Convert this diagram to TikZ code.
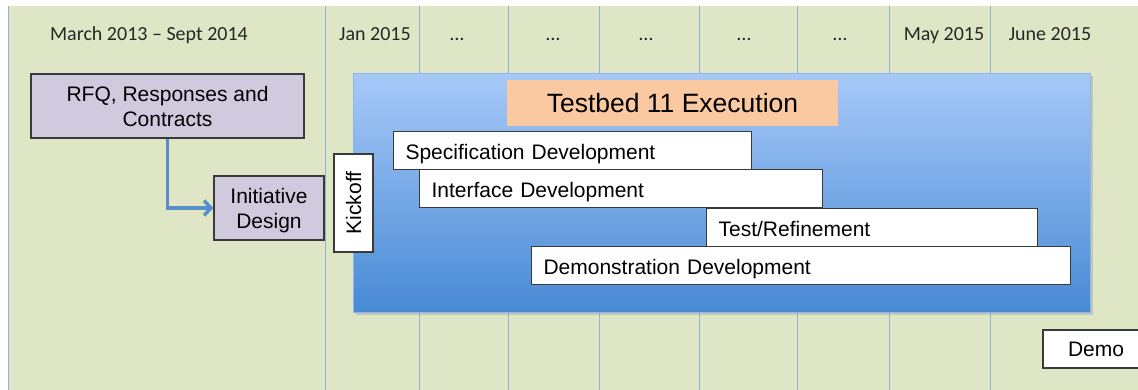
\documentclass[tikz,border=0pt]{standalone}
\usepackage{fontspec}
\setmainfont{Liberation Sans}
\newfontfamily\headfont[Ligatures=TeX]{Carlito}
\usetikzlibrary{positioning,arrows.meta,shadows}
\definecolor{bggreen}{HTML}{DEE6C5}
\definecolor{gridblue}{HTML}{93B3D6}
\definecolor{prepviolet}{HTML}{D1CADF}
\definecolor{titleorange}{HTML}{FBC9A1}
\definecolor{exectop}{HTML}{A7C9F8}
\definecolor{execbot}{HTML}{488AD5}
\definecolor{flowblue}{HTML}{5A8ECB}
\definecolor{boxline}{HTML}{3A3A3A}
\newcommand*{\boxfont}{\fontsize{21}{25}\selectfont}
\tikzset{
  month/.style = {font=\headfont\fontsize{20}{24}\selectfont, text=black!85,
                  anchor=base},
  prep/.style  = {draw=boxline, line width=1.1pt, fill=prepviolet,
                  align=center, inner sep=0pt, text depth=0pt, font=\boxfont},
  task/.style  = {draw=boxline, line width=1.1pt, fill=white, align=left,
                  text width=#1, inner xsep=12pt, inner ysep=0pt,
                  text height=20pt, text depth=2pt,
                  minimum height=38pt, anchor=north west, font=\boxfont},
  flow/.style  = {draw=flowblue, line width=3.5pt,
                  -{Straight Barb[length=7pt,width=15pt]}},
}

\begin{document}
\begin{tikzpicture}[x=1pt, y=-1pt]
  \useasboundingbox (0,0) rectangle (1138,390);
  \clip (0,0) rectangle (1138,390);

  % timeline background and month columns
  \fill[bggreen] (8,6) rectangle (1138,390);
  \draw[gridblue, line width=1pt] (8,6) -- (8,390);
  \foreach \gx in {325,419,508,599,699,797,889,990}
    \draw[gridblue, line width=0.8pt] (\gx,6) -- (\gx,390);

  \node[month] (m0) at (149,41) {March 2013 – Sept 2014};
  \node[month] (m1) at (375,41) {Jan 2015};
  \node[month] (m2) at (457,41) {…};
  \node[month] (m3) at (553,41) {…};
  \node[month] (m4) at (646,41) {…};
  \node[month] (m5) at (744,41) {…};
  \node[month] (m6) at (840,41) {…};
  \node[month] (m7) at (944,41) {May 2015};
  \node[month] (m8) at (1050,41) {June 2015};

  % preparation
  \node[prep, minimum width=273pt, minimum height=64pt] (rfq) at (167.5,106)
    {RFQ, Responses and\\Contracts};
  \node[prep, minimum width=110pt, minimum height=64pt] (init) at (269,208)
    {Initiative\\Design};
  \draw[flow] (rfq.south) |- (init.west);

  % execution
  \node[anchor=north west, minimum width=737pt, minimum height=239pt,
        inner sep=0pt, top color=exectop, bottom color=execbot,
        draw=exectop!70!execbot, line width=0.6pt,
        drop shadow={shadow xshift=3pt, shadow yshift=-3pt, opacity=.3}]
    (exec) at (353,73) {};
  \node[fill=titleorange, minimum width=331pt, minimum height=46pt,
        inner sep=0pt, font=\fontsize{26.5}{30}\selectfont] (title) at (672.5,103)
    {Testbed 11 Execution};

  \node[draw=boxline, line width=1.1pt, fill=white, rotate=90, inner sep=0pt,
        minimum width=98pt, minimum height=39pt, font=\boxfont] (kick) at (353.5,203)
    {Kickoff};

  \node[task=334pt] (spec)  at (393,131) {Specification Development};
  \node[task=379pt] (iface) at (419,169) {Interface Development};
  \node[task=307pt] (test)  at (706,208) {Test/Refinement};
  \node[task=515pt] (demodev) at (531,246) {Demonstration Development};

  \node[draw=boxline, line width=1.1pt, fill=white, inner sep=0pt,
        minimum width=106pt, minimum height=38pt, font=\boxfont] (demo) at (1096,349)
    {Demo};
\end{tikzpicture}
\end{document}
